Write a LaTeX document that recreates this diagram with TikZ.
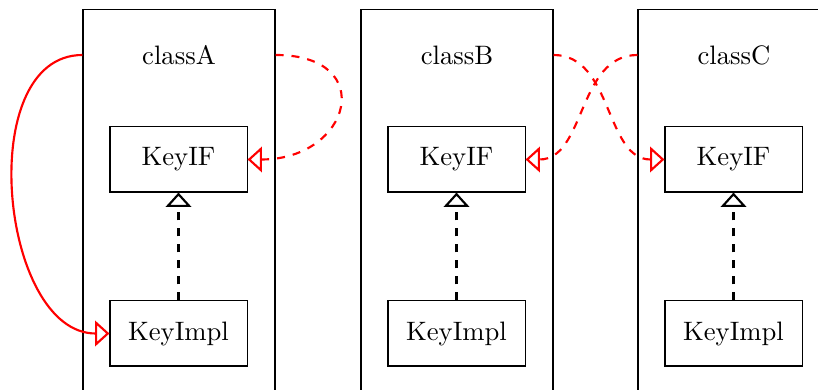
\documentclass[tikz,border=0pt]{standalone}
\usetikzlibrary{arrows.meta}
\tikzset{
  outerbox/.style={draw, line width=0.4pt, minimum width=72pt, minimum height=150pt, inner sep=0pt},
  titlebox/.style={minimum width=72pt, inner sep=0pt},
  keybox/.style={draw, line width=0.4pt, minimum width=51.4pt, minimum height=24.4pt, inner sep=0pt},
  tri/.style={-{Triangle[open, length=5.4pt, width=9.6pt]}},
  redsolid/.style={red, thick, tri},
  reddash/.style={red, thick, dashed, tri},
  blackdash/.style={black, thick, dashed, tri},
}
\begin{document}
\begin{tikzpicture}[x=0.375pt, y=-0.375pt]
  \useasboundingbox (0,0) rectangle (818,390);
  \clip (0,0) rectangle (818,390);
  % outer containers
  \node[outerbox, anchor=north] (boxA) at (179,9) {};
  \node[outerbox, anchor=north] (boxB) at (457,9) {};
  \node[outerbox, anchor=north] (boxC) at (734,9) {};
  % titles
  \node[titlebox] (classA) at (179,55) {classA};
  \node[titlebox] (classB) at (457,55) {classB};
  \node[titlebox] (classC) at (734,55) {classC};
  % inner boxes
  \node[keybox] (ifA) at (178.5,159.5) {KeyIF};
  \node[keybox] (implA) at (178.5,333.5) {KeyImpl};
  \node[keybox] (ifB) at (456.5,159.5) {KeyIF};
  \node[keybox] (implB) at (456.5,333.5) {KeyImpl};
  \node[keybox] (ifC) at (733.5,159.5) {KeyIF};
  \node[keybox] (implC) at (733.5,333.5) {KeyImpl};
  % realisation arrows
  \draw[blackdash] (implA.north) -- (ifA.south);
  \draw[blackdash] (implB.north) -- (ifB.south);
  \draw[blackdash] (implC.north) -- (ifC.south);
  % red connectors
  \draw[redsolid] (classA.west) to[out=180, in=180, looseness=1.0] (implA.west);
  \draw[reddash] (classA.east) to[out=0, in=0, looseness=2.45] (ifA.east);
  \draw[reddash] (classB.east) to[out=0, in=180] (ifC.west);
  \draw[reddash] (classC.west) to[out=180, in=0] (ifB.east);
\end{tikzpicture}
\end{document}
